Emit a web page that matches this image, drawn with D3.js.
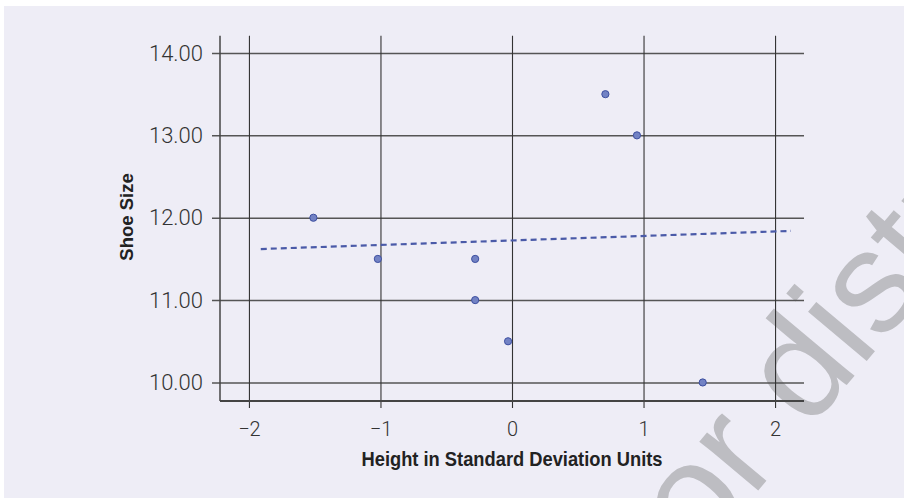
<!DOCTYPE html>
<html>
<head>
<meta charset="utf-8">
<script src="https://cdn.jsdelivr.net/npm/d3@7"></script>
<style>
  html, body { margin: 0; padding: 0; background: #ffffff; }
  svg { display: block; }
</style>
</head>
<body>
<div id="chart"></div>
<script>
// ---- data ----
const heightSD = [-1.51, -1.02, -0.28, -0.28, -0.03, 0.71, 0.95, 1.45];
const shoeSize = [12.0, 11.5, 11.5, 11.0, 10.5, 13.5, 13.0, 10.0];
const trendX = [-1.91, 2.12];
const trendY = [11.62, 11.84];
const xTicks = [-2, -1, 0, 1, 2];
const yTicks = [10, 11, 12, 13, 14];
const xTitle = "Height in Standard Deviation Units";
const yTitle = "Shoe Size";
const watermark = "or distribute";

// ---- layout ----
const W = 904, H = 498;
const svg = d3.select("#chart").append("svg").attr("width", W).attr("height", H);

svg.append("rect").attr("x", 4).attr("y", 6).attr("width", W - 4).attr("height", H - 6)
  .attr("fill", "#eeedf6");

const x = d3.scaleLinear().domain([-2.22, 2.22]).range([220, 804]);
const y = d3.scaleLinear().domain([9.775, 14.21]).range([401, 35.7]);

// watermark
svg.append("text")
  .attr("transform", "translate(700,560) rotate(-50)")
  .attr("font-family", "'Liberation Sans', Arial, sans-serif")
  .attr("font-size", 145)
  .attr("fill", "#bdbdc2")
  .text(watermark);

const tickFont = "Roboto, 'Liberation Sans', sans-serif";

// horizontal gridlines (y axis)
const yAxis = d3.axisLeft(y).tickValues(yTicks)
  .tickSize(-(804 - 220)).tickSizeOuter(0).tickPadding(0)
  .tickFormat(d3.format(".2f"));
const gy = svg.append("g").attr("transform", "translate(220,0)").call(yAxis);
gy.select(".domain").remove();
gy.selectAll(".tick line").attr("x1", -8).attr("stroke", "#555").attr("stroke-width", 1.5);
gy.selectAll(".tick text")
  .attr("x", -17).attr("dy", "0.32em")
  .attr("font-family", tickFont).attr("font-weight", 300)
  .attr("font-size", 22).attr("fill", "#333");

// vertical gridlines (x axis)
const xAxis = d3.axisBottom(x).tickValues(xTicks)
  .tickSize(-(401 - 35.7)).tickSizeOuter(0).tickPadding(0)
  .tickFormat(d => d < 0 ? "\u2212" + Math.abs(d) : String(d));
const gx = svg.append("g").attr("transform", "translate(0,401)").call(xAxis);
gx.select(".domain").remove();
gx.selectAll(".tick line").attr("y1", 7).attr("stroke", "#333").attr("stroke-width", 1.1);
gx.selectAll(".tick text")
  .attr("y", 35).attr("dy", 0)
  .attr("font-family", tickFont).attr("font-weight", 300)
  .attr("font-size", 20).attr("fill", "#333");

// axis lines
svg.append("line").attr("x1", x.range()[0]).attr("x2", x.range()[0])
  .attr("y1", y.range()[1]).attr("y2", y.range()[0])
  .attr("stroke", "#444").attr("stroke-width", 1.5);
svg.append("line").attr("x1", x.range()[0]).attr("x2", x.range()[1])
  .attr("y1", y.range()[0]).attr("y2", y.range()[0])
  .attr("stroke", "#444").attr("stroke-width", 1.8);

// trend line
svg.append("path")
  .datum(trendX.map((d, i) => [d, trendY[i]]))
  .attr("d", d3.line().x(d => x(d[0])).y(d => y(d[1])))
  .attr("fill", "none").attr("stroke", "#4a5aa8").attr("stroke-width", 2.2)
  .attr("stroke-dasharray", "6,4");

// points
svg.append("g").selectAll("circle")
  .data(heightSD.map((d, i) => [d, shoeSize[i]]))
  .join("circle")
  .attr("cx", d => x(d[0])).attr("cy", d => y(d[1])).attr("r", 3.6)
  .attr("fill", "#7282c4").attr("stroke", "#3d4fa0").attr("stroke-width", 1);

// titles
svg.append("text")
  .attr("x", 512).attr("y", 465.5).attr("text-anchor", "middle")
  .attr("font-family", "'Liberation Sans', Arial, sans-serif")
  .attr("font-weight", "bold").attr("font-size", 21).attr("fill", "#222")
  .attr("textLength", 301).attr("lengthAdjust", "spacingAndGlyphs")
  .text(xTitle);

svg.append("text")
  .attr("transform", "translate(133,217) rotate(-90)")
  .attr("text-anchor", "middle")
  .attr("font-family", "'Liberation Sans', Arial, sans-serif")
  .attr("font-weight", "bold").attr("font-size", 18.5).attr("fill", "#222")
  .text(yTitle);
</script>
</body>
</html>
